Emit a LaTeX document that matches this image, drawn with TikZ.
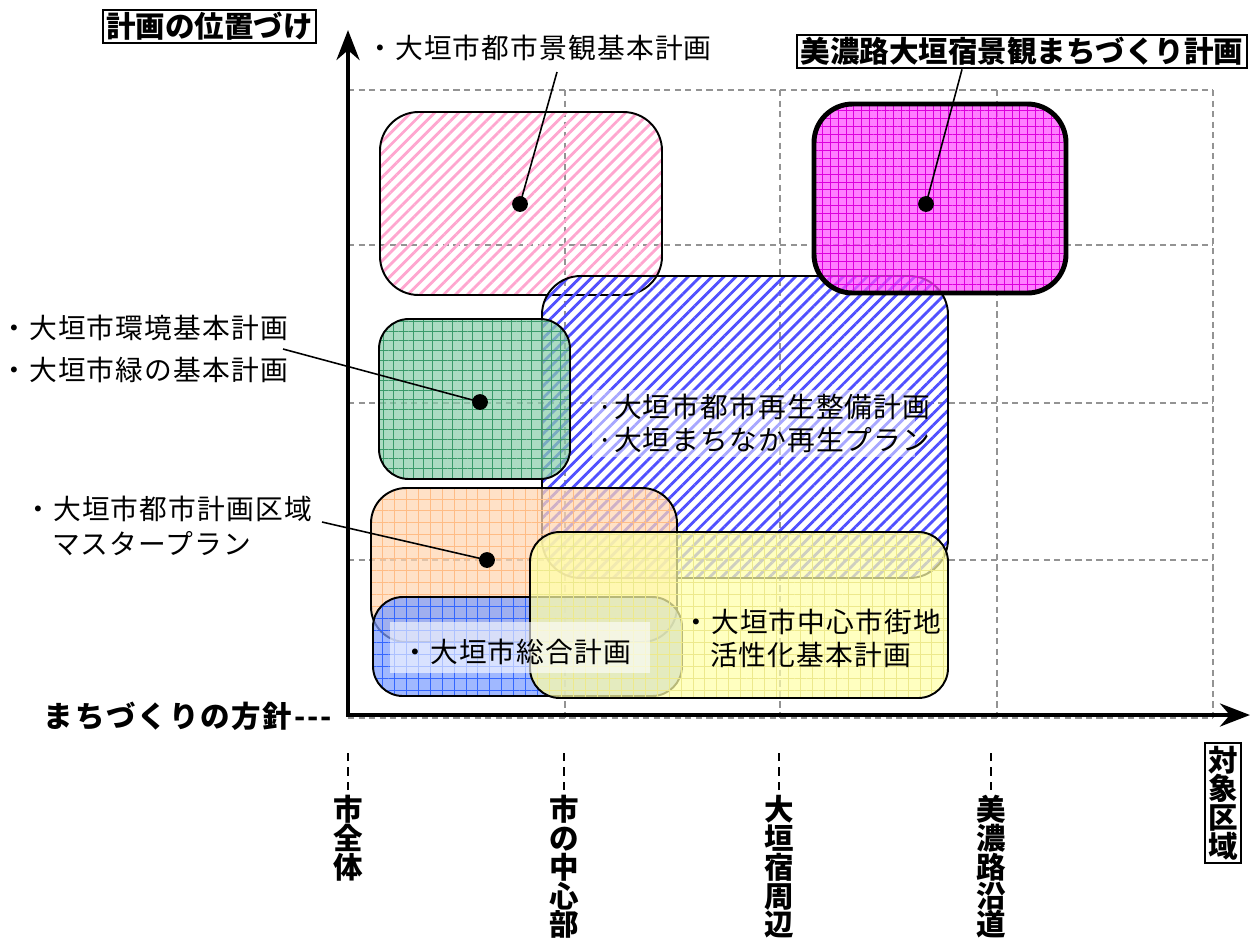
\documentclass[tikz,border=0pt]{standalone}
\usepackage{fontspec}
\setmainfont{Noto Sans CJK JP}
\newfontfamily\notefont{Noto Sans CJK JP}[LetterSpace=4]
\usetikzlibrary{patterns.meta, arrows.meta}

\definecolor{pinkline}{HTML}{FFA6CF}
\definecolor{hatchblue}{HTML}{5050FF}
\definecolor{greenfill}{HTML}{8ACDAA}
\definecolor{greenline}{HTML}{3A9A6A}
\definecolor{orangefill}{HTML}{FFD6B2}
\definecolor{orangeline}{HTML}{FFBC85}
\definecolor{yellowfill}{HTML}{FFFFA8}
\definecolor{yellowline}{HTML}{EDE98C}
\definecolor{bluefill}{HTML}{7C9CFF}
\definecolor{blueline}{HTML}{3366FF}
\definecolor{magfill}{HTML}{FF4DFF}
\definecolor{magline}{HTML}{DD00DD}

\tikzset{
    planbox/.style={draw=black, line width=1.1pt, rounded corners=#1},
    planbox/.default=18pt,
    gridfill/.style n args={3}{preaction={fill=#1, fill opacity=.72}, pattern={Hatch[angle=0, distance=#3, line width=.5pt]}, pattern color=#2, fill opacity=.72},
    stripefill/.style={pattern={Lines[angle=45, distance=4.8pt, line width=1.6pt]}, pattern color=#1, fill opacity=.75},
    leaddot/.style={circle, fill=black, minimum size=9pt, inner sep=0pt},
    leader/.style={line width=0.9pt},
    note/.style={anchor=west, align=left},
    heading/.style={font=\bfseries\fontsize{16.8pt}{16.4pt}\selectfont},
    headbox/.style={heading, draw, line width=1.2pt, inner xsep=2pt, inner ysep=1.5pt},
    areatick/.style={line width=1.5pt, dash pattern=on 4.8pt off 3.4pt},
}

\begin{document}
\begin{tikzpicture}[x=0.02cm, y=-0.02cm, font=\notefont\fontsize{15.8pt}{19pt}\selectfont, inner sep=0pt]
    \useasboundingbox (0,0) rectangle (1250,941);

    % grid
    \begin{scope}[gray!85, line width=0.9pt, dash pattern=on 3.5pt off 2.5pt]
        \foreach \y in {90, 245, 403, 560, 718} {%
            \draw (348,\y) -- (1213,\y);
        }
        \foreach \x in {565, 780, 997, 1213} {%
            \draw (\x,90) -- (\x,718);
        }
    \end{scope}

    % plans
    \draw [planbox=22pt, stripefill=pinkline] (380,112) rectangle (662,295);
    \draw [planbox=22pt, stripefill=hatchblue] (542,276) rectangle (948,578);
    \draw [planbox=17pt, gridfill={greenfill}{greenline}{5.6pt}] (379,319) rectangle (570,479);
    \draw [planbox=20pt, gridfill={orangefill}{orangeline}{6.8pt}] (371,488) rectangle (677,642);
    \draw [planbox=17pt, gridfill={bluefill}{blueline}{6.8pt}] (373,597) rectangle (682,696);
    \draw [planbox=17pt, gridfill={yellowfill}{yellowline}{6.8pt}, fill opacity=.58] (530,532) rectangle (948,698);
    \draw [planbox=22pt, line width=2.8pt, gridfill={magfill}{magline}{4.5pt}, fill opacity=.9] (814,104) rectangle (1066,293);

    \fill [white, fill opacity=.5] (592,390) rectangle (915,457);
    \fill [white, fill opacity=.6] (390,622) rectangle (650,673);

    % axes
    \coordinate (O) at (348,715);
    \draw [line width=2.8pt, {Stealth[length=17pt, width=13pt]}-{Stealth[length=17pt, width=13pt]}] (348,30) -- (O) -- (1250,715);

    % labels
    \node [headbox] (posLbl) at (209.5,26.5) {計画の位置づけ};
    \node [heading, anchor=east] (policyLbl) at (332,716) {\addfontfeature{LetterSpace=6}まちづくりの方針{-}{-}{-}};
    \node [headbox, align=center] (areaLbl) at (1223,803) {対\\象\\区\\域};

    \node [note] (pinkLbl) at (366,48) {・大垣市都市景観基本計画};
    \node [headbox] (magLbl) at (1022,51.5) {美濃路大垣宿景観まちづくり計画};
    \node [note, font=\notefont\fontsize{15.8pt}{24pt}\selectfont] (greenLbl) at (0,349) {・大垣市環境基本計画\\・大垣市緑の基本計画};
    \node [note, font=\notefont\fontsize{15.8pt}{19.8pt}\selectfont] (orangeLbl) at (24,525.5) {・大垣市都市計画区域\\\hphantom{・}マスタープラン};
    \node [note, font=\notefont\fontsize{15.8pt}{18.7pt}\selectfont] (hatchLbl) at (597,423.5) {·大垣市都市再生整備計画\\·大垣まちなか再生プラン};
    \node [note] (blueLbl) at (401,652) {・大垣市総合計画};
    \node [note, font=\notefont\fontsize{15.8pt}{18.7pt}\selectfont] (yellowLbl) at (682,638.5) {・大垣市中心市街地\\\hphantom{・}活性化基本計画};

    % leaders
    \node [leaddot] (dot-pink) at (520,204) {};
    \node [leaddot] (dot-mag) at (926,204) {};
    \node [leaddot] (dot-green) at (480,402) {};
    \node [leaddot] (dot-orange) at (487,560) {};
    \coordinate (from-pink) at (557,72);
    \coordinate (from-mag) at (magLbl.south -| 962,0);
    \coordinate (from-green) at (283,349);
    \coordinate (from-orange) at (322,522);
    \foreach \p in {pink, mag, green, orange} {%
        \draw [leader] (from-\p) -- (dot-\p.center);
    }

    % target areas
    \foreach \x/\name/\txt in {348/whole/市\\全\\体, 564/center/市\\の\\中\\心\\部, 779/juku/大\\垣\\宿\\周\\辺, 991/road/美\\濃\\路\\沿\\道} {%
        \node [heading, align=center, anchor=north] (\name) at (\x,795) {\txt};
        \draw [areatick] (\name.north) ++(0,-5) coordinate (\name-tick) -- ++(0,-40);
    }
\end{tikzpicture}
\end{document}
